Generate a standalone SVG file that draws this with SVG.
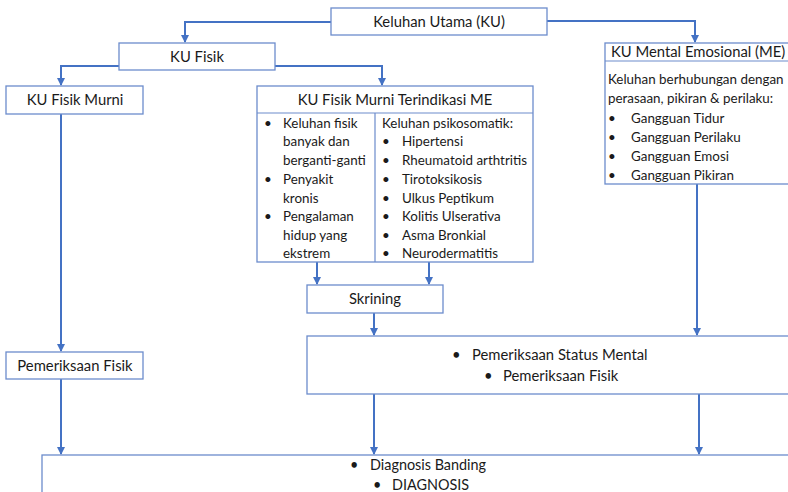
<svg xmlns="http://www.w3.org/2000/svg" width="788" height="492" viewBox="0 0 788 492">
<style>
.box{fill:#fff;stroke:#6c8ccc;stroke-width:1.3}
.div{stroke:#6c8ccc;stroke-width:1.2;fill:none}
.t{font-family:Lato,"Open Sans","Liberation Sans",sans-serif;font-size:13.4px;fill:#1a1a1a}
.h{font-family:Lato,"Open Sans","Liberation Sans",sans-serif;font-size:14.8px;fill:#1a1a1a}
.d{font-family:Lato,"Open Sans","Liberation Sans",sans-serif;font-size:14.4px;fill:#1a1a1a}
.c{text-anchor:middle}
.con{fill:none;stroke:#4472c4;stroke-width:2}
</style>
<defs>
<marker id="arr" viewBox="0 0 8 8" refX="7" refY="4" markerWidth="4" markerHeight="4" orient="auto" markerUnits="strokeWidth">
<path d="M0,0 L8,4 L0,8 z" fill="#4472c4"/>
</marker>
</defs>
<rect width="788" height="492" fill="#fff"/>
<g id="connectors">
<path class="con" d="M331,22 H185 V42" marker-end="url(#arr)"/>
<path class="con" d="M547,21 H695 V42" marker-end="url(#arr)"/>
<path class="con" d="M119,66 H61 V85" marker-end="url(#arr)"/>
<path class="con" d="M275,66 H382 V85" marker-end="url(#arr)"/>
<path class="con" d="M61,114 V351" marker-end="url(#arr)"/>
<path class="con" d="M61,379 V454" marker-end="url(#arr)"/>
<path class="con" d="M317,262 V284" marker-end="url(#arr)"/>
<path class="con" d="M429,262 V284" marker-end="url(#arr)"/>
<path class="con" d="M374,313 V335" marker-end="url(#arr)"/>
<path class="con" d="M697,184 V335" marker-end="url(#arr)"/>
<path class="con" d="M374,394 V454" marker-end="url(#arr)"/>
<path class="con" d="M699,394 V454" marker-end="url(#arr)"/>
</g>
<g id="ku">
<rect class="box" x="331" y="8" width="216" height="27"/>
<text class="h c" x="439" y="27">Keluhan Utama (KU)</text>
</g>
<g id="ku-fisik">
<rect class="box" x="119" y="43" width="156" height="27"/>
<text class="h c" x="197" y="62">KU Fisik</text>
</g>
<g id="ku-fisik-murni">
<rect class="box" x="6" y="86" width="137" height="28"/>
<text class="h c" x="75" y="105">KU Fisik Murni</text>
</g>
<g id="ku-terindikasi">
<rect class="box" x="257" y="86" width="276" height="176"/>
<path class="div" d="M257,113 H533 M375,113 V262"/>
<text class="h c" x="395" y="105">KU Fisik Murni Terindikasi ME</text>
<g class="t">
<text x="264" y="128">•</text><text x="283" y="128">Keluhan fisik</text>
<text x="283" y="146">banyak dan</text>
<text x="283" y="165">berganti-ganti</text>
<text x="264" y="184">•</text><text x="283" y="184">Penyakit</text>
<text x="283" y="203">kronis</text>
<text x="264" y="221">•</text><text x="283" y="221">Pengalaman</text>
<text x="283" y="240">hidup yang</text>
<text x="283" y="258">ekstrem</text>
<text x="382" y="128">Keluhan psikosomatik:</text>
<text x="382" y="146">•</text><text x="402" y="146">Hipertensi</text>
<text x="382" y="165">•</text><text x="402" y="165">Rheumatoid arthtritis</text>
<text x="382" y="184">•</text><text x="402" y="184">Tirotoksikosis</text>
<text x="382" y="203">•</text><text x="402" y="203">Ulkus Peptikum</text>
<text x="382" y="221">•</text><text x="402" y="221">Kolitis Ulserativa</text>
<text x="382" y="240">•</text><text x="402" y="240">Asma Bronkial</text>
<text x="382" y="258">•</text><text x="402" y="258">Neurodermatitis</text>
</g>
</g>
<g id="ku-me">
<rect class="box" x="605" y="43" width="190" height="141"/>
<path class="div" d="M605,61 H788"/>
<text class="h" x="611" y="57">KU Mental Emosional (ME)</text>
<g class="t">
<text x="608" y="84">Keluhan berhubungan dengan</text>
<text x="608" y="103">perasaan, pikiran &amp; perilaku:</text>
<text x="608" y="123">•</text><text x="631" y="123">Gangguan Tidur</text>
<text x="608" y="142">•</text><text x="631" y="142">Gangguan Perilaku</text>
<text x="608" y="161">•</text><text x="631" y="161">Gangguan Emosi</text>
<text x="608" y="180">•</text><text x="631" y="180">Gangguan Pikiran</text>
</g>
</g>
<g id="skrining">
<rect class="box" x="307" y="285" width="136" height="28"/>
<text class="h c" x="375" y="304">Skrining</text>
</g>
<g id="status">
<rect class="box" x="307" y="336" width="490" height="58"/>
<text class="h" x="452" y="360">•</text><text class="h" x="472" y="360">Pemeriksaan Status Mental</text>
<text class="h" x="484" y="381">•</text><text class="h" x="503" y="381">Pemeriksaan Fisik</text>
</g>
<g id="pem-fisik">
<rect class="box" x="6" y="352" width="137" height="27"/>
<text class="h c" x="75" y="371">Pemeriksaan Fisik</text>
</g>
<g id="diagnosis">
<rect class="box" x="42" y="455" width="760" height="50"/>
<text class="d" x="350" y="470">•</text><text class="d" x="370" y="470">Diagnosis Banding</text>
<text class="d" x="373" y="490">•</text><text class="d" x="392" y="490">DIAGNOSIS</text>
</g>
</svg>
